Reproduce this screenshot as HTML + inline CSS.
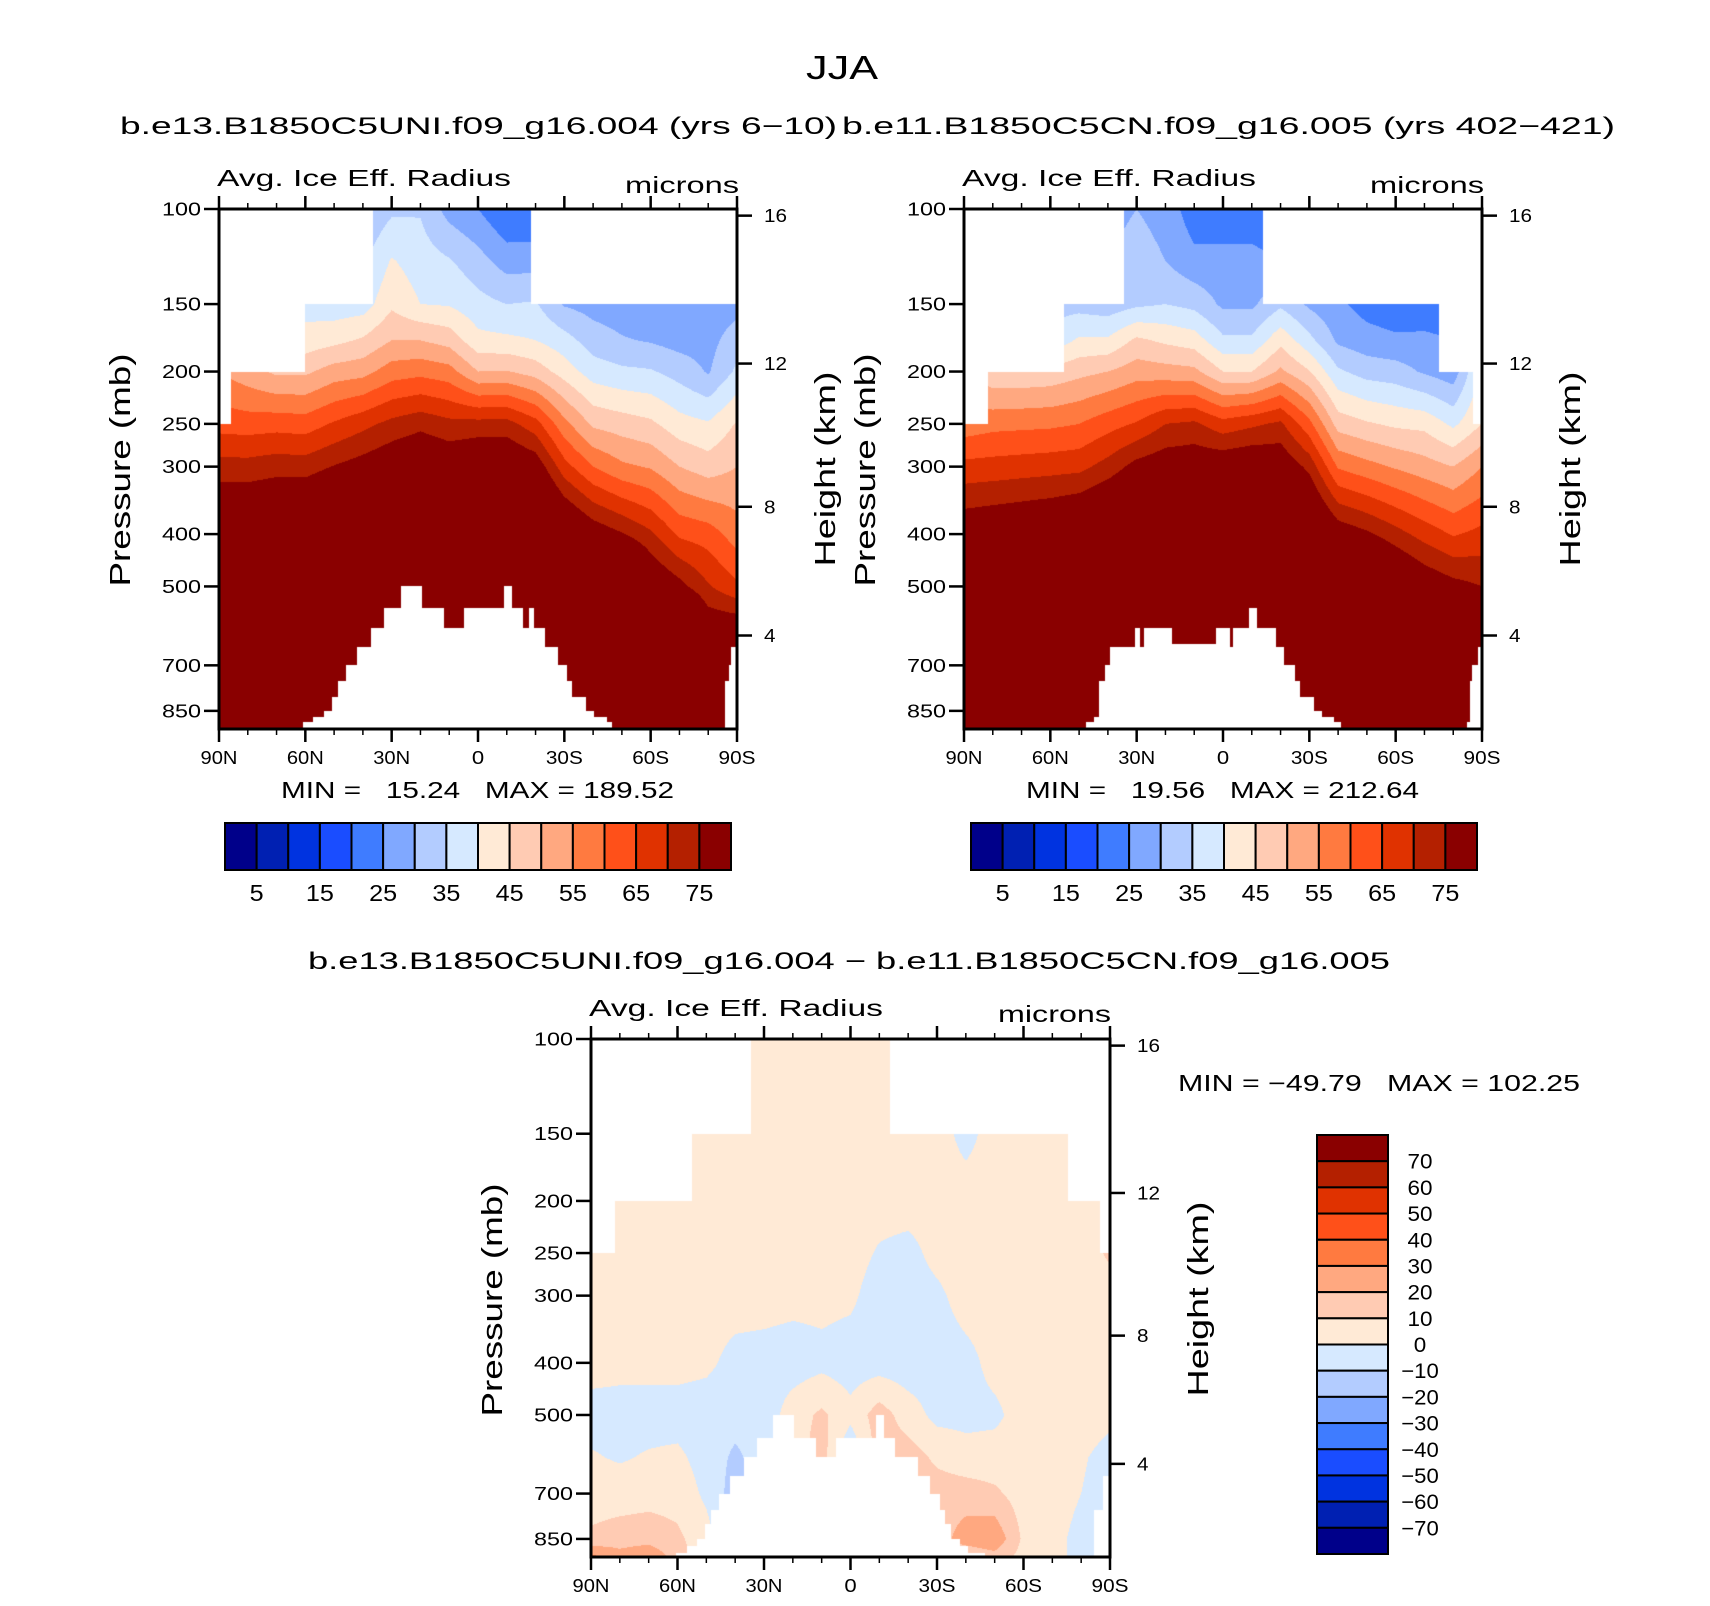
<!DOCTYPE html>
<html><head><meta charset="utf-8">
<style>
html,body{margin:0;padding:0;background:#fff;}
body{width:1710px;height:1606px;position:relative;overflow:hidden;font-family:"Liberation Sans",sans-serif;}
canvas{position:absolute;}
svg{position:absolute;left:0;top:0;}
svg text{font-family:"Liberation Sans",sans-serif;fill:#000;white-space:pre;}
</style></head>
<body>
<canvas id="c1" width="518" height="520" style="left:219px;top:209px"></canvas>
<canvas id="c2" width="518" height="520" style="left:964px;top:209px"></canvas>
<canvas id="c3" width="519" height="518" style="left:591px;top:1039px"></canvas>
<svg id="ov" width="1710" height="1606"></svg>
<script>
// pressure levels of data rows (mb)
const plev = [100,125,150,175,200,250,300,400,500,600,700,850,925];
// latitudes of data columns (deg, N positive)
const lats = [90,80,70,60,50,40,30,20,10,0,-10,-20,-30,-40,-50,-60,-70,-80,-90];
// Panel 1 values (microns), one row per latitude, columns = plev
const vals1 = [
[35,40,45,50,55,63,72,85,100,120,140,160,170],
[30,38,45,48,52,62.5,72,85,100,120,140,160,170],
[30,36,42,45,49,63,73,86,100,120,140,160,170],
[30,34,38,42,49,62.5,72.7,87,100,120,140,160,170],
[30,34,37,43.5,52.3,65.6,75.3,90,105,125,145,165,175],
[30,34,37.5,45.7,53.2,68.5,77.5,92,105,125,145,165,175],
[34,40.5,44,50,57.5,71.5,80,95,110,130,150,170,180],
[34.5,37.5,40,50,58.5,73.5,82,97,110,130,150,170,180],
[28,35.5,39.5,48,57,71.5,80,95,110,130,150,170,180],
[25,32,36.7,41.5,50,71.8,82,97,110,130,150,170,180],
[20,27.8,35,41,50.3,72,82,97,110,130,150,170,180],
[20,28,35.5,40,47.8,67,79,93,110,130,150,170,180],
[20,25,29.5,37,42.7,56.5,67,85,105,125,145,165,175],
[20,25,28,32.5,37.5,49,60,79,100,120,140,160,170],
[20,24,27,30.5,36,47.5,56,75.5,95,115,135,155,165],
[20,23,25,29.5,35.5,46,54.5,71,82,100,120,140,150],
[20,23,25,28,33,42,50,64,77,95,115,135,145],
[20,23,26,28,29.5,40.5,47.5,62.5,70.5,80,100,120,130],
[22,25,28,33,36,45.5,50,57.5,66,80,100,120,130]];
// Panel 2 values (microns)
const vals2 = [
[35,40,45,48,52,57,66.6,80,95,115,135,155,165],
[30,35,40,43,46,58.4,67,81,95,115,135,155,165],
[30,35,40,43,46,58.7,67.5,82,95,115,135,155,165],
[28,30,33,36.5,46.5,59,68,83,97,117,137,157,167],
[28,30,33,40.8,48.5,60,68.5,85,100,120,140,160,170],
[28,30,32,40.8,50,63,72,88,102,122,142,162,172],
[30,32.5,34,46,52.7,65.5,77,90,105,125,145,165,175],
[28,30,35,44,52,70,79,93,108,128,148,168,178],
[22,26.5,33.5,42.5,51.3,71,79.5,94,108,128,148,168,178],
[22,26.5,29,36,45,67,80,95,110,130,150,170,180],
[22,26.5,29,36,45,69,81,96,110,130,150,170,180],
[21,25,34,43.5,51,71,80,95,110,130,150,170,180],
[20,24,29,36.5,45.3,61.5,73.5,88,105,125,145,165,175],
[22,24,26,29,35.8,47.8,59.4,79,95,115,135,155,165],
[20,22,23,27,33,45.6,56.8,76,92,112,132,152,162],
[18,20,21.5,26,32.2,44,54.4,72,85,105,125,145,155],
[18,20,22,26,29.3,43.5,52.2,68,80,100,120,140,150],
[18,20,22,25,27,38.9,50,64.5,77,95,115,135,145],
[25,30,35,40,42,45,55,66.5,75,90,110,130,140]];
// Panel 3 difference values
const vals3 = [
[4,4,4,4,4,4,4,4,-4,1,5,12,35],
[4,4,4,4,4,4,4,3,-4,-1,5,15,25],
[4,4,4,4,4,4,4,3,-4,1,6,16,30],
[4,4,4,4,4,4,4,3,-4,2,6,12,15],
[4,4,4,4,4,4,4,2,-5,-4,-2,4,4],
[4,4,4,4,4,4,4,-3,-6,-12,-15,-10,-10],
[4,4,4,4,4,4,4,-4,-6,-5,-5,-5,-5],
[4,4,4,4,4,4,3,-5,5,5,5,5,5],
[4,4,4,4,4,4,3,-3,12,15,15,15,15],
[4,4,4,4,4,4,2,-5,3,-10,-10,-10,-10],
[3,3,4,4,4,-1,-5,-5,15,15,15,15,15],
[4,4,4,4,4,-3,-5,-6,5,15,15,15,15],
[4,4,4,4,4,3,-2,-5,-3,8,15,15,15],
[4,4,-3,1,4,4,4,-3,-3,4,15,25,10],
[4,4,4,4,4,4,4,3,-2,4,12,28,15],
[4,4,4,4,4,4,4,4,4,4,5,8,6],
[4,4,4,4,4,4,4,4,4,4,3,2,2],
[4,4,4,4,4,4,4,4,4,1,0,-2,-2],
[4,4,4,4,4,12,4,4,2,-3,-4,-4,-4]];
// missing-data masks: [northLat, southLat, pressure]
const top1 = [[90,85.7,250],[85.7,60,200],[60,36.4,150],[36.4,-18.5,100],[-18.5,-90,150]];
const top2 = [[90,81.8,250],[81.8,55.3,200],[55.3,34.5,150],[34.5,-13.8,100],[-13.8,-75.2,150],[-75.2,-86.7,200],[-86.7,-90,250]];
const top3 = [[90,81.8,250],[81.8,55,200],[55,34.4,150],[34.4,-13.8,100],[-13.8,-75.3,150],[-75.3,-86.6,200],[-86.6,-90,250]];
const bot1 = [[60.9,57.2,891],[57.2,53.4,872],[53.4,50.6,850],[50.6,48.7,802],[48.7,45.7,749],[45.7,42.2,700],[42.2,37.2,648],[37.2,32.5,597],[32.5,26.9,548],[26.9,19.4,499],[19.4,11.8,548],[11.8,5.0,597],[5.0,-9.1,548],[-9.1,-11.8,499],[-11.8,-15.5,548],[-15.5,-17.6,597],[-17.6,-19.4,548],[-19.4,-23.2,597],[-23.2,-27.8,648],[-27.8,-30.8,700],[-30.8,-32.5,749],[-32.5,-37.5,802],[-37.5,-40.2,850],[-40.2,-44.9,872],[-44.9,-46.6,891],[-85.7,-87.1,749],[-87.1,-88,700],[-88,-90,648]];
const bot2 = [[47.7,44.8,893],[44.8,43.0,872],[43.0,41.0,749],[41.0,39.2,700],[39.2,30.7,648],[30.7,29.0,597],[29.0,27.6,648],[27.6,17.7,597],[17.7,2.5,640],[2.5,-2.5,597],[-2.5,-3.4,648],[-3.4,-9.0,597],[-9.0,-11.9,548],[-11.9,-18.4,597],[-18.4,-21.3,648],[-21.3,-25.1,700],[-25.1,-26.9,749],[-26.9,-31.6,802],[-31.6,-34.5,850],[-34.5,-38.4,872],[-38.4,-41.0,893],[-84.8,-85.8,893],[-85.8,-86.5,749],[-86.5,-88.6,700],[-88.6,-90,648]];
const bot3 = [[60.6,56.8,901],[56.8,53.3,876],[53.3,50.3,852],[50.3,48.3,799],[48.3,45.6,751],[45.6,41.7,700],[41.7,37.0,649],[37.0,32.4,598],[32.4,26.8,551],[26.8,19.5,499],[19.5,11.8,551],[11.8,5.0,598],[5.0,-8.9,551],[-8.9,-11.7,499],[-11.7,-15.6,551],[-15.6,-23.3,598],[-23.3,-27.4,649],[-27.4,-30.9,700],[-30.9,-32.7,751],[-32.7,-35.0,799],[-35.0,-38.0,852],[-38.0,-40.9,876],[-40.9,-46.8,901],[-84.5,-87.7,751],[-87.7,-90,649]];
// contour levels
const levels12 = [5,10,15,20,25,30,35,40,45,50,55,60,65,70,75];
const levels3 = [-70,-60,-50,-40,-30,-20,-10,0,10,20,30,40,50,60,70];
const cbarLabels12 = ["5","15","25","35","45","55","65","75"];
const cbarLabels3 = ["70","60","50","40","30","20","10","0","\u221210","\u221220","\u221230","\u221240","\u221250","\u221260","\u221270"];
const palette = ["#00008a","#0020b2","#0033e0","#1a4dff","#3f7cff","#80a8ff","#b3ccff","#d6e9ff","#ffead6","#ffcbb3","#ffa880","#ff7a40","#ff5019","#e03200","#b42000","#8a0000"];
// axis ticks
const pTicks = [100,150,200,250,300,400,500,700,850];
const latMajor = [90,60,30,0,-30,-60,-90];
const latLabels = ["90N","60N","30N","0","30S","60S","90S"];
const latMinor = [80,70,50,40,20,10,-10,-20,-40,-50,-70,-80];
const zTicks = [4,8,12,16];
const DEC = 0.963;

function hexRgb(h){return [parseInt(h.substr(1,2),16),parseInt(h.substr(3,2),16),parseInt(h.substr(5,2),16)];}
const palRgb = palette.map(hexRgb);
function lookup(segs, lat, def){
  for (const s of segs){ if (lat<=s[0] && lat>=s[1]) return s[2]; }
  return def;
}
const lplev = plev.map(p=>Math.log10(p));
function render(id, vals, topM, botM, levels){
  const cv=document.getElementById(id), ctx=cv.getContext('2d');
  const W=cv.width,H=cv.height, img=ctx.createImageData(W,H), d=img.data;
  for (let px=0;px<W;px++){
    const lat = 90-(px+0.5)/W*180;
    const fi=(90-lat)/10; let i0=Math.min(Math.floor(fi),lats.length-2); const fx=fi-i0;
    const pt=lookup(topM,lat,100), pb=lookup(botM,lat,1e9);
    for (let py=0;py<H;py++){
      const lp=2+(py+0.5)/H*DEC, p=Math.pow(10,lp);
      const k=(py*W+px)*4;
      if (p<pt || p>pb){d[k]=255;d[k+1]=255;d[k+2]=255;d[k+3]=255;continue;}
      let j=0; while(j<lplev.length-2 && lp>lplev[j+1]) j++;
      let fy=(lp-lplev[j])/(lplev[j+1]-lplev[j]); fy=Math.max(0,Math.min(1,fy));
      const a=vals[i0][j],b=vals[i0+1][j],c=vals[i0][j+1],e=vals[i0+1][j+1];
      const v=(a*(1-fx)+b*fx)*(1-fy)+(c*(1-fx)+e*fx)*fy;
      let ci=0; while(ci<levels.length && v>=levels[ci]) ci++;
      const col=palRgb[ci];
      d[k]=col[0];d[k+1]=col[1];d[k+2]=col[2];d[k+3]=255;
    }
  }
  ctx.putImageData(img,0,0);
}
render('c1',vals1,top1,bot1,levels12);
render('c2',vals2,top2,bot2,levels12);
render('c3',vals3,top3,bot3,levels3);

const NS="http://www.w3.org/2000/svg", ov=document.getElementById('ov');
function el(tag, attrs, parent){const e=document.createElementNS(NS,tag);for(const k in attrs)e.setAttribute(k,attrs[k]);(parent||ov).appendChild(e);return e;}
function txt(s,x,y,size,len,name,anchor,extra){
  const t=el('text',Object.assign({x:x,y:y,'font-size':size,'text-anchor':anchor||'start'},extra||{}));
  if(len){t.setAttribute('textLength',len);t.setAttribute('lengthAdjust','spacingAndGlyphs');}
  t.textContent=s;
  
  
  return t;
}
function stdP(z){ if(z<=11) return 1013.25*Math.pow(1-0.0065*z*1000/288.15,5.2559); return 226.32*Math.exp(-(z-11)/6.3416); }

function axes(x0,y0,W,H,tag){
  const g=el('g',{});
  
  
  const yOf=p=>y0+H*Math.log10(p/100)/DEC, xOf=l=>x0+(90-l)/180*W;
  el('rect',{x:x0,y:y0,width:W,height:H,fill:'none',stroke:'#000','stroke-width':3},g);
  pTicks.forEach(p=>{
    const y=yOf(p);
    el('line',{x1:x0-15,x2:x0,y1:y,y2:y,stroke:'#000','stroke-width':2.5},g);
    const s=String(p);
    txt(s,x0-18,y+6.5,18,s.length*13,tag+'-p-label','end');
  });
  latMajor.forEach((l,i)=>{
    const x=xOf(l);
    el('line',{x1:x,x2:x,y1:y0-13,y2:y0,stroke:'#000','stroke-width':2.5},g);
    el('line',{x1:x,x2:x,y1:y0+H,y2:y0+H+13,stroke:'#000','stroke-width':2.5},g);
    const s=latLabels[i];
    txt(s,x,y0+H+35,18,s.length*12.3,tag+'-lat-label','middle');
  });
  latMinor.forEach(l=>{
    const x=xOf(l);
    el('line',{x1:x,x2:x,y1:y0-6,y2:y0,stroke:'#000','stroke-width':1.5},g);
    el('line',{x1:x,x2:x,y1:y0+H,y2:y0+H+6,stroke:'#000','stroke-width':1.5},g);
  });
  zTicks.forEach(z=>{
    const y=yOf(stdP(z));
    el('line',{x1:x0+W,x2:x0+W+15,y1:y,y2:y,stroke:'#000','stroke-width':2.5},g);
    const s=String(z);
    txt(s,x0+W+27,y+6.5,18,s.length*11.5,tag+'-height-label','start');
  });
  txt("Pressure (mb)",0,0,29,233,tag+'-y-axis-title','middle',{transform:`translate(${x0-99},${y0+261}) rotate(-90)`,dy:10});
  txt("Height (km)",0,0,29,195,tag+'-right-axis-title','middle',{transform:`translate(${x0+W+88},${y0+260}) rotate(-90)`,dy:10});
}
axes(219,209,518,520,'left');
axes(964,209,518,520,'right');
axes(591,1039,519,518,'diff');

txt("JJA",842,79,33,72,'main-title','middle');
txt("b.e13.B1850C5UNI.f09_g16.004 (yrs 6\u221210)",120,134,24,717,'left-subtitle');
txt("b.e11.B1850C5CN.f09_g16.005 (yrs 402\u2212421)",842,134,24,773,'right-subtitle');
txt("Avg. Ice Eff. Radius",217,186,23,294,'left-variable-title');
txt("microns",625,193,23,114,'left-units');
txt("Avg. Ice Eff. Radius",962,186,23,294,'right-variable-title');
txt("microns",1370,193,23,114,'right-units');
txt("b.e13.B1850C5UNI.f09_g16.004 \u2212 b.e11.B1850C5CN.f09_g16.005",308,969,24,1082,'diff-title');
txt("Avg. Ice Eff. Radius",589,1016,23,294,'diff-variable-title');
txt("microns",998,1022,23,113,'diff-units');
txt("MIN =   15.24   MAX = 189.52",281,798,23,393,'left-minmax');
txt("MIN =   19.56   MAX = 212.64",1026,798,23,393,'right-minmax');
txt("MIN = \u221249.79   MAX = 102.25",1178,1091,23,402,'diff-minmax');

function hbar(x0,y0,w,h,tag){
  const bw=w/palette.length;
  palette.forEach((c,i)=>{
    const r=el('rect',{x:x0+i*bw,y:y0,width:bw,height:h,fill:c,stroke:'#000','stroke-width':2});
    
    
  });
  cbarLabels12.forEach((s,i)=>{
    txt(s,x0+(1+2*i)*bw,y0+h+31,23,s.length*14,tag+'-colorbar-label','middle');
  });
}
hbar(225,823,506,47,'left');
hbar(971,823,506,47,'right');
(function(){
  const x0=1317,y0=1135,w=71,h=419,bh=h/palette.length;
  palette.slice().reverse().forEach((c,i)=>{
    const r=el('rect',{x:x0,y:y0+i*bh,width:w,height:bh,fill:c,stroke:'#000','stroke-width':2});
    
    
  });
  cbarLabels3.forEach((s,i)=>{
    txt(s,1420,y0+(i+1)*bh+7.5,21,s.length*12.5,'diff-colorbar-label','middle');
  });
})();
</script>
</body></html>
